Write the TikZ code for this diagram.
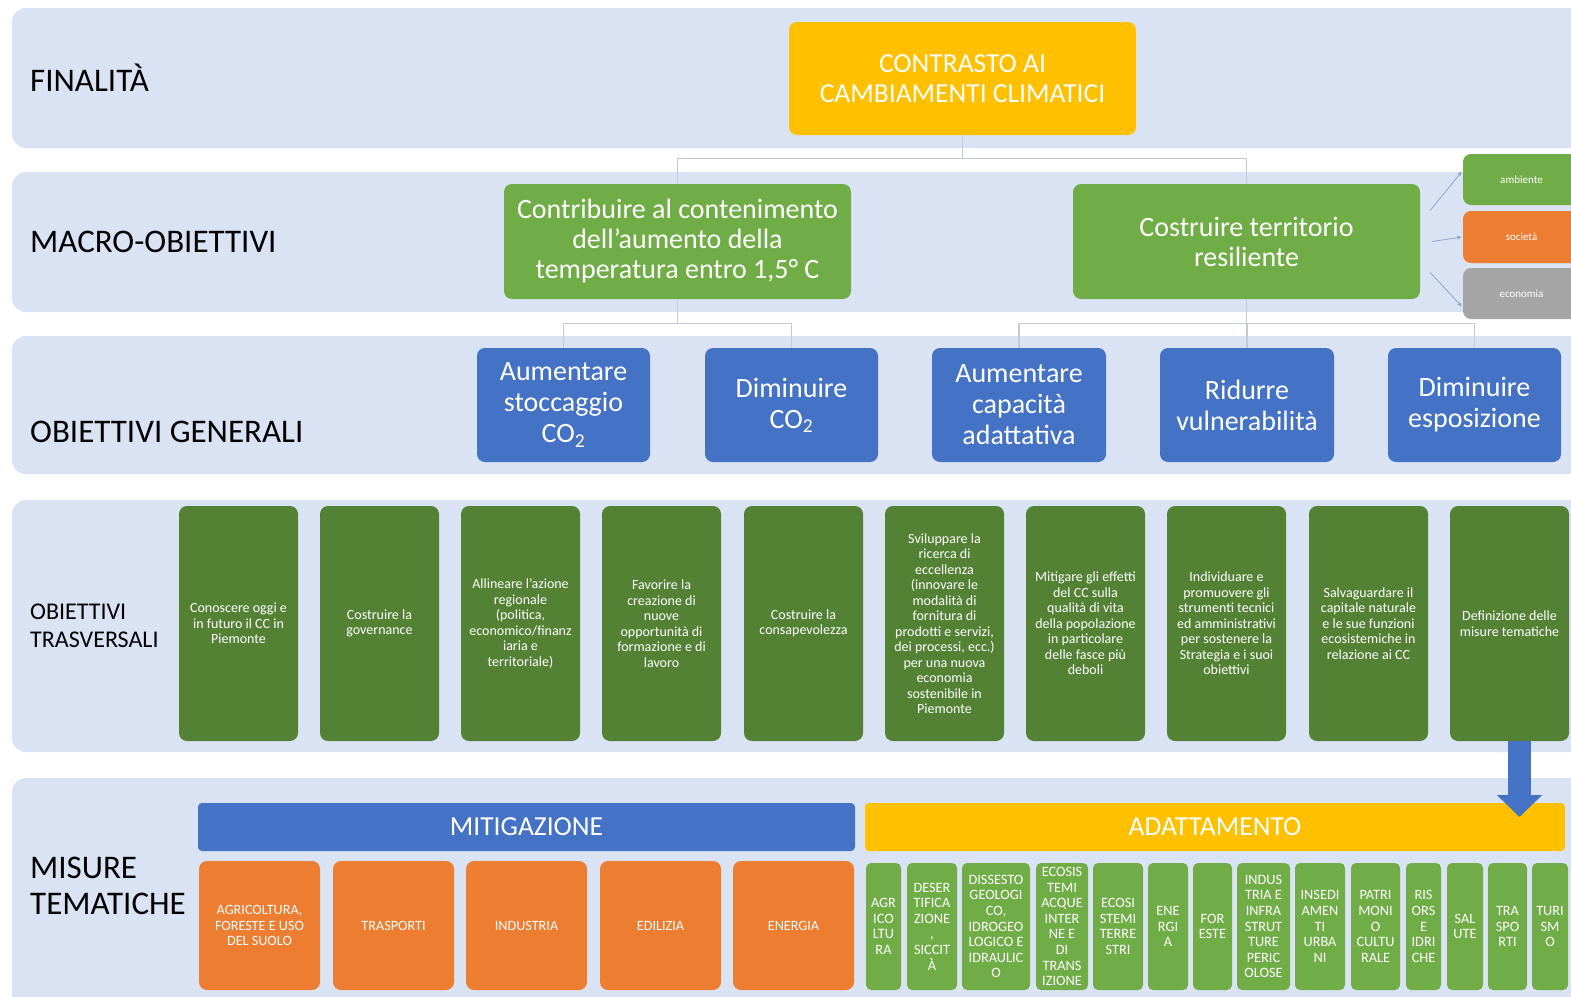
\documentclass[tikz,border=0pt]{standalone}
\usepackage{fontspec}
\setmainfont{Carlito}
\usetikzlibrary{arrows.meta}
\definecolor{band}{HTML}{DAE3F3}
\definecolor{cyellow}{HTML}{FFC000}
\definecolor{cgreen}{HTML}{70AD47}
\definecolor{cdgreen}{HTML}{548235}
\definecolor{cblue}{HTML}{4472C4}
\definecolor{corange}{HTML}{ED7D31}
\definecolor{cgray}{HTML}{A5A5A5}
\definecolor{cline}{HTML}{C4CAD4}
\definecolor{carr}{HTML}{8FA3C8}
\newcommand\mybox[7]{\node[#6, minimum width={(#4-#2)*1pt}, minimum height={(#5-#3)*1pt}] (#1) at ({(#2+#4)/2},{(#3+#5)/2}) {#7};}
\tikzset{
  bandbox/.style={fill=band, rounded corners=14pt},
  rowlabel/.style={anchor=west, align=left, inner sep=0pt, text=black},
  box/.style={rounded corners=8pt, text=white, align=center, inner sep=1pt},
  yelbox/.style={box, fill=cyellow, font=\fontsize{27.5}{30}\selectfont},
  macrobox/.style={box, fill=cgreen, font=\fontsize{28}{30}\selectfont},
  genbox/.style={box, fill=cblue, font=\fontsize{28}{31}\selectfont},
  trbox/.style={box, fill=cdgreen, font=\fontsize{14}{15.5}\selectfont},
  mitbox/.style={box, fill=corange, font=\fontsize{14.2}{15.5}\selectfont},
  adbox/.style={box, rounded corners=5pt, fill=cgreen, inner sep=0pt, font=\fontsize{14.3}{15.6}\selectfont},
  smallbox/.style={box, font=\fontsize{11}{13}\selectfont},
  barbox/.style={box, rounded corners=4pt, font=\fontsize{27.5}{30}\selectfont},
  conn/.style={draw=cline, line width=1.2pt},
  sarr/.style={draw=carr, line width=0.8pt, -{Stealth[length=5pt,width=4pt]}},
  bigarr/.style={draw=cblue, line width=23pt, -{Triangle[width=44pt,length=22pt]}}
}
\begin{document}
\begin{tikzpicture}[x=1pt,y=-1pt]
\useasboundingbox (0,0) rectangle (1571,996);
\clip (0,0) rectangle (1571,996);
\fill[white] (0,0) rectangle (1571,996);
% bands
\fill[bandbox] (12,8) rectangle (1620,148);
\fill[bandbox] (12,172) rectangle (1620,312);
\fill[bandbox] (12,336) rectangle (1620,474);
\fill[bandbox] (12,500) rectangle (1620,752);
\fill[bandbox] (12,778) rectangle (1620,1040);
% row labels
\node[rowlabel, font=\fontsize{33}{36}\selectfont] (lfin) at (30,78) {FINALITÀ};
\node[rowlabel, font=\fontsize{33}{36}\selectfont] (lmacro) at (30,242) {MACRO-OBIETTIVI};
\node[rowlabel, font=\fontsize{33}{36}\selectfont] (lgen) at (30,432) {OBIETTIVI GENERALI};
\node[rowlabel, font=\fontsize{24}{28}\selectfont] (ltr) at (30,626) {OBIETTIVI\\TRASVERSALI};
\node[rowlabel, font=\fontsize{33}{36}\selectfont] (lmis) at (30,886) {MISURE\\TEMATICHE};
% finalita
\mybox{top}{789}{22}{1136}{135}{yelbox}{CONTRASTO AI\\CAMBIAMENTI CLIMATICI}
% macro
\mybox{mL}{504}{184}{851}{299}{macrobox}{Contribuire al contenimento\\dell’aumento della\\temperatura entro 1,5° C}
\mybox{mR}{1073}{184}{1420}{299}{macrobox}{Costruire territorio\\resiliente}
\mybox{amb}{1463}{154}{1580}{205}{smallbox, fill=cgreen}{ambiente}
\mybox{soc}{1463}{211}{1580}{263}{smallbox, fill=corange}{società}
\mybox{eco}{1463}{268}{1580}{319}{smallbox, fill=cgray}{economia}
% general
\mybox{g1}{477}{348}{650}{462}{genbox}{Aumentare\\stoccaggio\\CO\textsubscript{2}}
\mybox{g2}{705}{348}{878}{462}{genbox}{Diminuire\\CO\textsubscript{2}}
\mybox{g3}{932}{348}{1106}{462}{genbox}{Aumentare\\capacità\\adattativa}
\mybox{g4}{1160}{348}{1334}{462}{genbox}{Ridurre\\vulnerabilità}
\mybox{g5}{1388}{348}{1561}{462}{genbox}{Diminuire\\esposizione}
% connectors
\draw[conn] (top.south) -- ++(0,23) -| (mL.north);
\draw[conn] (top.south) -- ++(0,23) -| (mR.north);
\draw[conn] (mL.south) -- ++(0,24) -| (g1.north);
\draw[conn] (mL.south) -- ++(0,24) -| (g2.north);
\draw[conn] (mR.south) -- ++(0,24) -| (g3.north);
\draw[conn] (mR.south) -- ++(0,24) -| (g4.north);
\draw[conn] (mR.south) -- ++(0,24) -| (g5.north);
\draw[sarr] ([xshift=10pt,yshift=31pt]mR.east) -- ([xshift=-1pt,yshift=8pt]amb.west);
\draw[sarr] ([xshift=12pt]mR.east) -- ([xshift=-1pt]soc.west);
\draw[sarr] ([xshift=10pt,yshift=-31pt]mR.east) -- ([xshift=-1pt,yshift=-13pt]eco.west);
% transversal
\mybox{t1}{179}{506}{298}{741}{trbox}{Conoscere oggi e\\in futuro il CC in\\Piemonte}
\mybox{t2}{320}{506}{439}{741}{trbox}{Costruire la\\governance}
\mybox{t3}{461}{506}{580}{741}{trbox}{Allineare l’azione\\regionale\\(politica,\\economico/finanz\\iaria e\\territoriale)}
\mybox{t4}{602}{506}{721}{741}{trbox}{Favorire la\\creazione di\\nuove\\opportunità di\\formazione e di\\lavoro}
\mybox{t5}{744}{506}{863}{741}{trbox}{Costruire la\\consapevolezza}
\mybox{t6}{885}{506}{1004}{741}{trbox}{Sviluppare la\\ricerca di\\eccellenza\\(innovare le\\modalità di\\fornitura di\\prodotti e servizi,\\dei processi, ecc.)\\per una nuova\\economia\\sostenibile in\\Piemonte}
\mybox{t7}{1026}{506}{1145}{741}{trbox}{Mitigare gli effetti\\del CC sulla\\qualità di vita\\della popolazione\\in particolare\\delle fasce più\\deboli}
\mybox{t8}{1167}{506}{1286}{741}{trbox}{Individuare e\\promuovere gli\\strumenti tecnici\\ed amministrativi\\per sostenere la\\Strategia e i suoi\\obiettivi}
\mybox{t9}{1309}{506}{1428}{741}{trbox}{Salvaguardare il\\capitale naturale\\e le sue funzioni\\ecosistemiche in\\relazione ai CC}
\mybox{t10}{1450}{506}{1569}{741}{trbox}{Definizione delle\\misure tematiche}
% bars
\mybox{mit}{198}{803}{855}{851}{barbox, fill=cblue}{MITIGAZIONE}
\mybox{ada}{865}{803}{1565}{851}{barbox, fill=cyellow}{ADATTAMENTO}
% big arrow
\coordinate (arrtip) at (1519.5,817);
\draw[bigarr] ([xshift=10pt]t10.south) -- (arrtip);
% mitigation boxes
\mybox{m1}{199}{861}{320}{990}{mitbox}{AGRICOLTURA,\\FORESTE E USO\\DEL SUOLO}
\mybox{m2}{333}{861}{454}{990}{mitbox}{TRASPORTI}
\mybox{m3}{466}{861}{587}{990}{mitbox}{INDUSTRIA}
\mybox{m4}{600}{861}{721}{990}{mitbox}{EDILIZIA}
\mybox{m5}{733}{861}{854}{990}{mitbox}{ENERGIA}
% adaptation boxes
\mybox{a1}{866}{863}{901}{990}{adbox}{AGR\\ICO\\LTU\\RA}
\mybox{a2}{907}{863}{957}{990}{adbox}{DESER\\TIFICA\\ZIONE\\,\\SICCIT\\À}
\mybox{a3}{962}{863}{1030}{990}{adbox}{DISSESTO\\GEOLOGI\\CO,\\IDROGEO\\LOGICO E\\IDRAULIC\\O}
\mybox{a4}{1036}{863}{1088}{990}{adbox}{ECOSIS\\TEMI\\ACQUE\\INTER\\NE E\\DI\\TRANS\\IZIONE}
\mybox{a5}{1093}{863}{1143}{990}{adbox}{ECOSI\\STEMI\\TERRE\\STRI}
\mybox{a6}{1148}{863}{1188}{990}{adbox}{ENE\\RGI\\A}
\mybox{a7}{1193}{863}{1232}{990}{adbox}{FOR\\ESTE}
\mybox{a8}{1237}{863}{1290}{990}{adbox}{INDUS\\TRIA E\\INFRA\\STRUT\\TURE\\PERIC\\OLOSE}
\mybox{a9}{1295}{863}{1345}{990}{adbox}{INSEDI\\AMEN\\TI\\URBA\\NI}
\mybox{a10}{1351}{863}{1400}{990}{adbox}{PATRI\\MONI\\O\\CULTU\\RALE}
\mybox{a11}{1406}{863}{1441}{990}{adbox}{RIS\\ORS\\E\\IDRI\\CHE}
\mybox{a12}{1447}{863}{1483}{990}{adbox}{SAL\\UTE}
\mybox{a13}{1488}{863}{1527}{990}{adbox}{TRA\\SPO\\RTI}
\mybox{a14}{1532}{863}{1568}{990}{adbox}{TURI\\SM\\O}
\end{tikzpicture}
\end{document}
